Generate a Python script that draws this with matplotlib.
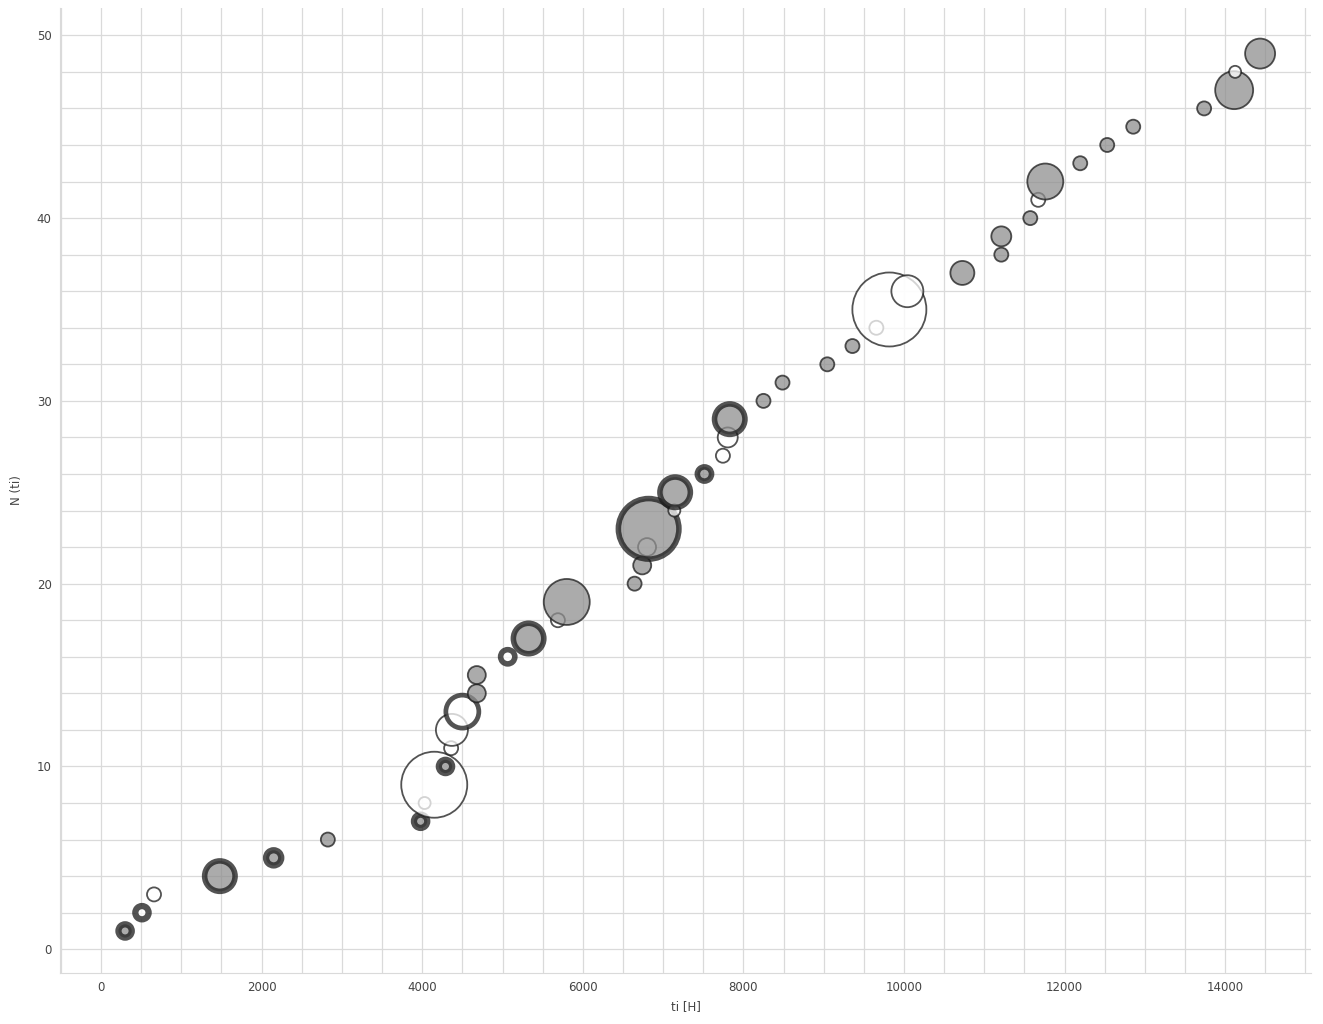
import numpy as np
import matplotlib
matplotlib.use("Agg")
from matplotlib import pyplot as plt
from matplotlib.ticker import MultipleLocator

# failure index and cumulative operating time
n_fail = list(range(1, 50))
ti = [300, 510, 660, 1480, 2150, 2825, 3980, 4030, 4150, 4290,
      4360, 4370, 4500, 4680, 4680, 5065, 5325, 5690, 5800, 6645,
      6740, 6800, 6820, 7140, 7150, 7515, 7745, 7805, 7830, 8250,
      8487, 9045, 9358, 9656, 9818, 10042, 10727, 11212, 11212, 11573,
      11672, 11760, 12195, 12531, 12855, 13738, 14112, 14124, 14435]

# bubble size (pt^2), ring width (pt) and whether the bubble is filled
size = [92, 92, 102, 480, 120, 102, 92, 75, 2258, 92,
        102, 530, 564, 168, 168, 105, 480, 102, 1097, 102,
        168, 168, 1900, 75, 480, 105, 102, 207, 480, 102,
        102, 102, 102, 102, 2838, 530, 298, 102, 207, 102,
        102, 672, 102, 102, 102, 102, 748, 75, 467]
ring = [4.5, 4.5, 1.3, 4.0, 4.5, 1.3, 4.5, 1.3, 1.3, 4.5,
        1.3, 1.3, 3.4, 1.3, 1.3, 4.0, 4.0, 1.3, 1.3, 1.3,
        1.3, 1.3, 4.0, 1.3, 4.0, 4.0, 1.3, 1.3, 4.0, 1.3,
        1.3, 1.3, 1.3, 1.3, 1.3, 1.3, 1.3, 1.3, 1.3, 1.3,
        1.3, 1.3, 1.3, 1.3, 1.3, 1.3, 1.3, 1.3, 1.3]
filled = [1, 0, 0, 1, 1, 1, 1, 0, 0, 1,
          0, 0, 0, 1, 1, 0, 1, 0, 1, 1,
          1, 0, 1, 0, 1, 1, 0, 0, 1, 1,
          1, 1, 1, 0, 0, 0, 1, 1, 1, 1,
          0, 1, 1, 1, 1, 1, 1, 0, 1]

plt.rcParams['font.family'] = ['DejaVu Sans']
fig = plt.figure(figsize=(13.23, 10.24), dpi=100)
ax = fig.add_axes([0.0454, 0.0498, 0.9456, 0.9425])

faces = ['#8f8f8f' if f else 'white' for f in filled]
ax.scatter(ti, n_fail, s=size, c=faces, edgecolors='#1a1a1a',
           linewidths=ring, alpha=0.75, zorder=3)

ax.set_xlim(-510, 15070)
ax.set_ylim(-1.3, 51.5)
ax.xaxis.set_major_locator(MultipleLocator(2000))
ax.xaxis.set_minor_locator(MultipleLocator(500))
ax.yaxis.set_major_locator(MultipleLocator(10))
ax.yaxis.set_minor_locator(MultipleLocator(2))
ax.grid(which='both', color='#dadada', linewidth=0.9, zorder=0)
ax.set_axisbelow(True)
ax.tick_params(which='both', length=0, labelsize=8.5, labelcolor='#444444', pad=6)

for side in ['top', 'right']:
    ax.spines[side].set_visible(False)
for side in ['left', 'bottom']:
    ax.spines[side].set_color('#dadada')

ax.set_xlabel('ti [H]', fontsize=8.5, color='#444444', labelpad=4)
ax.set_ylabel('N (ti)', fontsize=8.5, color='#444444', labelpad=10)

fig.savefig('out.png', dpi=100)
